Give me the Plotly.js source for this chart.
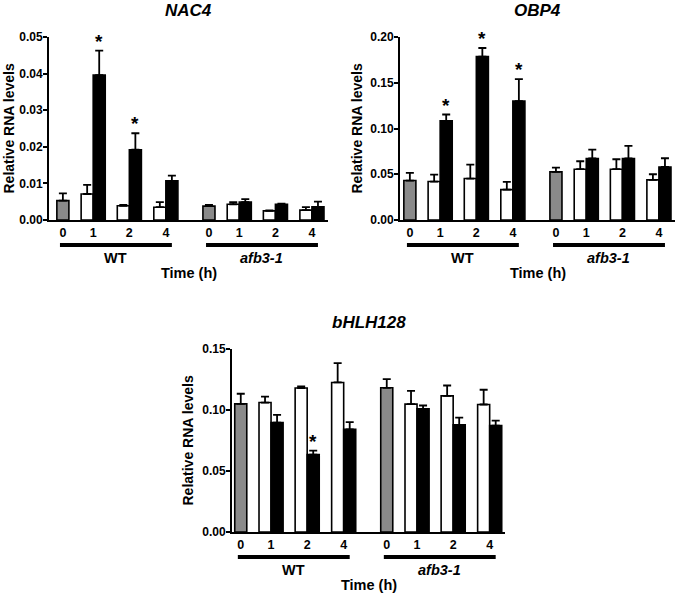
<!DOCTYPE html>
<html>
<head>
<meta charset="utf-8">
<script src="https://cdn.plot.ly/plotly-3.0.1.min.js"></script>
<style>html,body{margin:0;padding:0;background:#fff;}#chart{width:677px;height:593px;}</style>
</head>
<body>
<div id="chart"></div>
<script>
// ---- data ----
const genotypes = ["WT", "afb3-1"];
const timeLabels = ["0", "1", "2", "4"];
const genes = ["NAC4", "OBP4", "bHLH128"];

// per gene: control (time 0, gray), mock (white) and treated (black) for times 1,2,4; WT then afb3-1
const nac4_ctrl = [0.0053, 0.0038];
const nac4_ctrlErr = [0.0020, 0.0003];
const nac4_white = [0.0071, 0.0039, 0.0035, 0.0043, 0.0025, 0.0027];
const nac4_whiteErr = [0.0025, 0.0002, 0.0014, 0.0006, 0.0001, 0.0008];
const nac4_black = [0.0396, 0.0192, 0.0107, 0.0049, 0.0043, 0.0036];
const nac4_blackErr = [0.0067, 0.0045, 0.0014, 0.0008, 0.0002, 0.0014];
const nac4_sig = [true, true, false, false, false, false];

const obp4_ctrl = [0.0431, 0.0526];
const obp4_ctrlErr = [0.0084, 0.0047];
const obp4_white = [0.0420, 0.0453, 0.0332, 0.0555, 0.0555, 0.0438];
const obp4_whiteErr = [0.0076, 0.0153, 0.0084, 0.0087, 0.0109, 0.0062];
const obp4_black = [0.1084, 0.1785, 0.1300, 0.0672, 0.0672, 0.0580];
const obp4_blackErr = [0.0069, 0.0095, 0.0240, 0.0098, 0.0138, 0.0095];
const obp4_sig = [true, true, true, false, false, false];

const bhlh_ctrl = [0.1050, 0.1182];
const bhlh_ctrlErr = [0.0083, 0.0071];
const bhlh_white = [0.1061, 0.1180, 0.1226, 0.1048, 0.1116, 0.1045];
const bhlh_whiteErr = [0.0049, 0.0013, 0.0159, 0.0109, 0.0085, 0.0121];
const bhlh_black = [0.0897, 0.0634, 0.0842, 0.1009, 0.0878, 0.0872];
const bhlh_blackErr = [0.0063, 0.0033, 0.0058, 0.0028, 0.0060, 0.0041];
const bhlh_sig = [false, true, false, false, false, false];

const yMax = [0.05, 0.20, 0.15];
const yDtick = [0.01, 0.05, 0.05];

// ---- layout helpers (positions, not data) ----
const slotPos = [0, 0.83, 1.82, 2.82];
const genoOffset = [0, 4.0];
const barW = 0.33;
const W = 677, H = 593;
const panels = [
  {left: 49, right: 328, top: 37, bottom: 220, xmin: -0.38, xmax: 7.26, ytitleShift: -40},
  {left: 400, right: 675, top: 37, bottom: 220, xmin: -0.27, xmax: 7.26, ytitleShift: -43},
  {left: 232, right: 505, top: 349, bottom: 532, xmin: -0.24, xmax: 7.24, ytitleShift: -45}
];
const geneData = [
  [nac4_ctrl, nac4_ctrlErr, nac4_white, nac4_whiteErr, nac4_black, nac4_blackErr, nac4_sig],
  [obp4_ctrl, obp4_ctrlErr, obp4_white, obp4_whiteErr, obp4_black, obp4_blackErr, obp4_sig],
  [bhlh_ctrl, bhlh_ctrlErr, bhlh_white, bhlh_whiteErr, bhlh_black, bhlh_blackErr, bhlh_sig]
];

const FONT = "Liberation Sans, Arial, sans-serif";
const traces = [];
const layout = {
  width: W, height: H,
  margin: {l: 0, r: 0, t: 0, b: 0},
  paper_bgcolor: "#fff", plot_bgcolor: "rgba(0,0,0,0)",
  showlegend: false, barmode: "overlay",
  font: {family: FONT, color: "#000"},
  annotations: [], shapes: []
};

const lineCol = "#000";
function errObj(arr) {
  return {type: "data", symmetric: false, array: arr, arrayminus: arr.map(() => 0),
          color: "#000", thickness: 1.8, width: 4};
}

panels.forEach((p, gi) => {
  const sfx = gi === 0 ? "" : String(gi + 1);
  const xa = "x" + sfx, ya = "y" + sfx;
  const [ctrl, ctrlErr, white, whiteErr, black, blackErr, sig] = geneData[gi];

  const ctrlX = genoOffset.map(o => o + slotPos[0]);
  const pairX = [];
  genoOffset.forEach(o => { for (let k = 1; k < 4; k++) pairX.push(o + slotPos[k]); });
  const whiteX = pairX.map(x => x - barW / 2);
  const blackX = pairX.map(x => x + barW / 2);

  const common = {type: "bar", xaxis: xa, yaxis: ya, width: barW, hoverinfo: "none"};
  traces.push(Object.assign({}, common, {x: ctrlX, y: ctrl, error_y: errObj(ctrlErr),
    marker: {color: "#8a8a8a", line: {color: lineCol, width: 1.6}}}));
  traces.push(Object.assign({}, common, {x: whiteX, y: white, error_y: errObj(whiteErr),
    marker: {color: "#ffffff", line: {color: lineCol, width: 1.6}}}));
  traces.push(Object.assign({}, common, {x: blackX, y: black, error_y: errObj(blackErr),
    marker: {color: "#000000", line: {color: lineCol, width: 1.6}}}));

  // axes
  const tickvals = [], ticktext = [];
  genoOffset.forEach(o => slotPos.forEach((s, k) => { tickvals.push(o + s); ticktext.push(timeLabels[k]); }));
  layout["xaxis" + sfx] = {
    domain: [p.left / W, p.right / W], anchor: ya, range: [p.xmin, p.xmax],
    showgrid: false, zeroline: false, showline: true, linecolor: "#000", linewidth: 2,
    ticks: "", tickvals: tickvals, ticktext: ticktext,
    tickfont: {family: FONT, size: 12.5, color: "#000", weight: "bold"}, fixedrange: true
  };
  layout["yaxis" + sfx] = {
    domain: [1 - p.bottom / H, 1 - p.top / H], anchor: xa, range: [0, yMax[gi]],
    showgrid: false, zeroline: false, showline: true, linecolor: "#000", linewidth: 2,
    ticks: "outside", ticklen: 4, tickwidth: 2, tickcolor: "#000", ticklabelstandoff: -2,
    dtick: yDtick[gi], tick0: 0, tickformat: ".2f",
    tickfont: {family: FONT, size: 12, color: "#000", weight: "bold"}, fixedrange: true
  };

  const xd = xa + " domain", yd = ya + " domain";
  // title
  layout.annotations.push({text: "<b><i>" + genes[gi] + "</i></b>", xref: xd, yref: yd, x: 0.5, y: 1,
    yshift: 27, showarrow: false, font: {family: FONT, size: 17, color: "#000"}, yanchor: "middle"});
  // y title
  layout.annotations.push({text: "<b>Relative RNA levels</b>", xref: xd, yref: yd, x: 0, y: 0.5,
    xshift: p.ytitleShift, textangle: -90, showarrow: false, font: {family: FONT, size: 14, color: "#000"},
    xanchor: "center", yanchor: "middle"});
  // x title
  layout.annotations.push({text: "<b>Time (h)</b>", xref: xd, yref: yd, x: 0.5, y: 0, yshift: -53,
    showarrow: false, font: {family: FONT, size: 14.5, color: "#000"}, yanchor: "middle"});
  // genotype lines & labels
  const axH = p.bottom - p.top;
  genoOffset.forEach((o, k) => {
    layout.shapes.push({type: "line", xref: xa, yref: yd, x0: o - 0.08, x1: o + slotPos[3] + barW / 2,
      y0: -25 / axH, y1: -25 / axH, line: {color: "#000", width: 4}});
    const label = k === 0 ? "<b>" + genotypes[k] + "</b>" : "<b><i>" + genotypes[k] + "</i></b>";
    layout.annotations.push({text: label, xref: xa, yref: yd, x: o + (slotPos[3] + barW / 2 - 0.08) / 2,
      y: -38 / axH, showarrow: false, yanchor: "middle", font: {family: FONT, size: 14.5, color: "#000"}});
  });
  // significance asterisks
  sig.forEach((s, i) => {
    if (!s) return;
    layout.annotations.push({text: "<b>*</b>", xref: xa, yref: ya, x: blackX[i], y: black[i] + blackErr[i],
      yanchor: "bottom", yshift: -3, showarrow: false, font: {family: FONT, size: 19, color: "#000"}});
  });
});

Plotly.newPlot("chart", traces, layout, {displayModeBar: false, staticPlot: true});
</script>
</body>
</html>
